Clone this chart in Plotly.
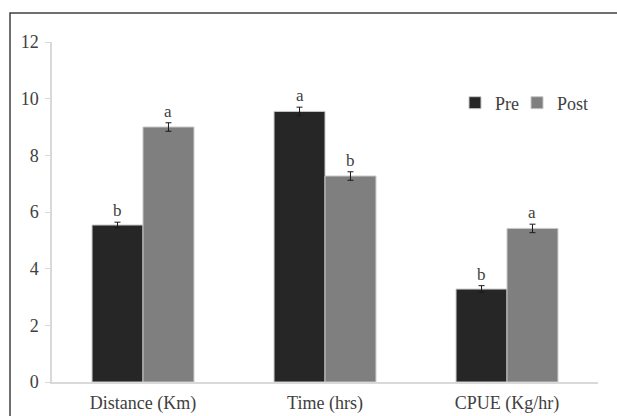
import plotly.graph_objects as go

categories = ["Distance (Km)", "Time (hrs)", "CPUE (Kg/hr)"]
pre_values = [5.54, 9.55, 3.28]
post_values = [9.0, 7.27, 5.42]
pre_err = [0.1, 0.15, 0.12]
post_err = [0.15, 0.15, 0.15]
pre_letters = ["b", "a", "b"]
post_letters = ["a", "b", "a"]
y_ticks = [0, 2, 4, 6, 8, 10, 12]

FONT = "Liberation Serif"
W, H = 617, 416
L, R, T, B = 52, 19, 42, 34

fig = go.Figure()
fig.add_trace(go.Bar(
    name="Pre", x=categories, y=pre_values, legend="legend",
    marker=dict(color="#262626", line=dict(color="#c8c8c8", width=1)),
    error_y=dict(type="data", array=pre_err, color="#1a1a1a", thickness=1, width=3),
))
fig.add_trace(go.Bar(
    name="Post", x=categories, y=post_values, legend="legend2",
    marker=dict(color="#7f7f7f", line=dict(color="#c8c8c8", width=1)),
    error_y=dict(type="data", array=post_err, color="#1a1a1a", thickness=1, width=3),
))

bargap = 0.44
half = (1 - bargap) / 4
annotations = []
for i in range(len(categories)):
    annotations.append(dict(x=i - half, y=pre_values[i] + pre_err[i], text=pre_letters[i],
                            showarrow=False, yanchor="bottom", yshift=0,
                            font=dict(family=FONT, size=17, color="#404040")))
    annotations.append(dict(x=i + half, y=post_values[i] + post_err[i], text=post_letters[i],
                            showarrow=False, yanchor="bottom", yshift=0,
                            font=dict(family=FONT, size=17, color="#404040")))

pw = W - L - R
ph = H - T - B
fig.add_shape(type="rect", xref="paper", yref="paper",
              x0=(10 - L) / pw, x1=1.2, y0=-0.3, y1=(H - B - 13) / ph,
              line=dict(color="#404040", width=1.5), fillcolor="rgba(0,0,0,0)", layer="below")

leg_common = dict(orientation="h", y=(H - B - 103) / ph, xanchor="left", yanchor="middle",
                  font=dict(family=FONT, size=18, color="#404040"),
                  itemwidth=30, bgcolor="rgba(0,0,0,0)")

fig.update_layout(
    width=W, height=H,
    margin=dict(l=L, r=R, t=T, b=B),
    paper_bgcolor="white", plot_bgcolor="white",
    barmode="group", bargap=bargap, bargroupgap=0,
    font=dict(family=FONT, size=18, color="#404040"),
    showlegend=True,
    legend=dict(x=(455 - L) / pw, **leg_common),
    legend2=dict(x=(517 - L) / pw, **leg_common),
    annotations=annotations,
    xaxis=dict(showline=True, linecolor="#d9d9d9", linewidth=1.5, ticks="",
               ticklabelstandoff=4, automargin=False,
               tickfont=dict(family=FONT, size=18, color="#404040"), showgrid=False),
    yaxis=dict(range=[0, 12], tickvals=y_ticks, showline=True, linecolor="#d9d9d9", linewidth=1.5,
               ticks="outside", ticklen=5, tickcolor="#d9d9d9", showgrid=False, zeroline=False,
               ticklabelstandoff=3, automargin=False,
               tickfont=dict(family=FONT, size=18, color="#404040")),
)

fig.write_html("out.html", config={"displayModeBar": False},
               post_script="document.body.style.margin='0';document.body.style.overflow='hidden';")
